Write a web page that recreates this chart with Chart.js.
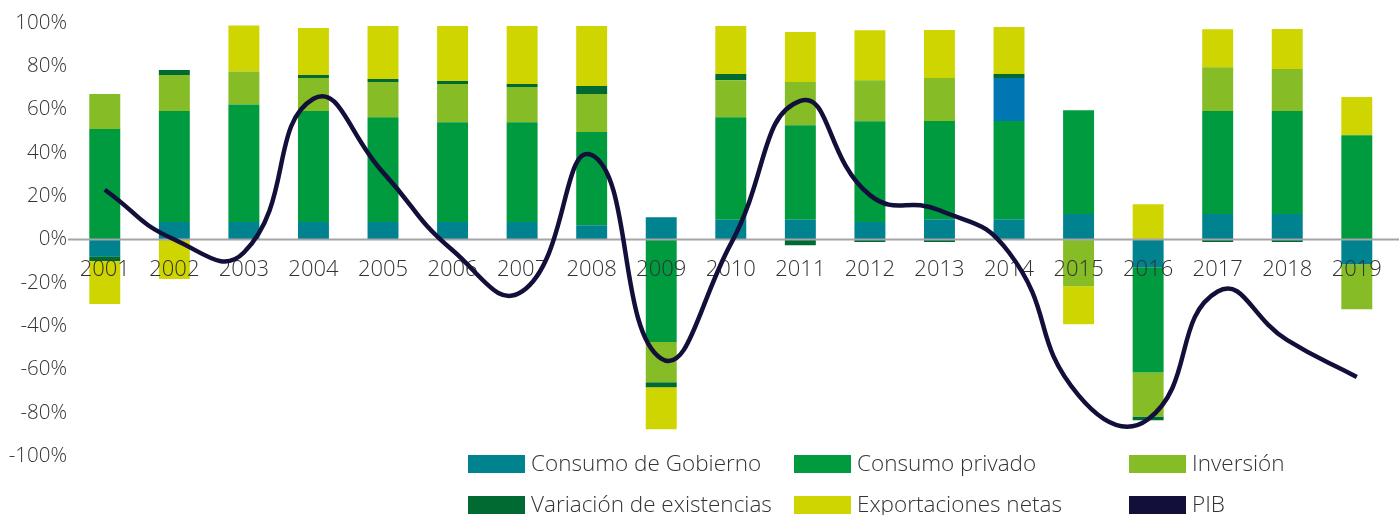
<!DOCTYPE html>
<html>
<head>
<meta charset="utf-8">
<script src="https://cdn.jsdelivr.net/npm/chart.js@4/dist/chart.umd.min.js"></script>
<style>
  html, body { margin: 0; padding: 0; background: #ffffff; }
  #wrap { position: relative; width: 1399px; height: 515px; overflow: hidden; }
  #c { position: absolute; left: 0; top: 0; }
  .lg { position: absolute; display: flex; align-items: center; font-family: "Open Sans", sans-serif; font-weight: 300; font-size: 22.5px; color: #333333; white-space: nowrap; }
  .lg .bx { width: 57px; height: 18px; margin-right: 6px; flex: none; }
  .lg .tx { position: relative; top: -2px; }
</style>
</head>
<body>
<div id="wrap">
  <canvas id="c" width="1399" height="515"></canvas>
  <div id="legend"></div>
</div>
<script>
const categories = ['2001','2002','2003','2004','2005','2006','2007','2008','2009','2010','2011','2012','2013','2014','2015','2016','2017','2018','2019'];
const consumoGobierno = [-7.7, 8.1, 8.1, 8.1, 8.1, 8.1, 8.1, 6.6, 10.3, 9.1, 9.1, 8.1, 9.4, 9.4, 11.8, -12.8, 11.8, 11.8, -11.4];
const consumoPrivado = [51, 51.3, 54.3, 51.3, 48.4, 46.1, 46.1, 43, -47.4, 47.4, 43.7, 46.5, 45.3, 45.3, 47.9, -48.6, 47.5, 47.5, 48.2];
const inversion = [16.2, 16.6, 15.2, 15.2, 16.2, 17.6, 16.2, 17.6, -18.5, 17.1, 19.9, 19, 19.9, 19.9, -21.6, -20.3, 20.3, 19.4, -20.8];
const variacionExistencias = [-2.2, 2.3, null, 1.4, 1.4, 1.4, 1.4, 3.7, -2.3, 2.8, -2.6, -1.2, -1.2, 1.8, null, -1.8, -1.2, -1.2, null];
const exportacionesNetas = [-19.9, -18.3, 21.2, 21.7, 24.5, 25.4, 26.8, 27.7, -19.4, 22.2, 23.1, 23.1, 22.2, 21.7, -17.6, 16.3, 17.5, 18.5, 17.6];
const pib = [23, 0, -6, 65, 31, -5, -24, 39, -55, -2, 64, 20.5, 13.5, -6, -72, -83, -24, -46.5, -63.5];
const yTicks = [-100, -80, -60, -40, -20, 0, 20, 40, 60, 80, 100];

const seriesNames = ['Consumo de Gobierno', 'Consumo privado', 'Inversión', 'Variación de existencias', 'Exportaciones netas', 'PIB'];
const colors = ['#00828f', '#009b3f', '#86bc25', '#006a32', '#cfd500', '#12103a'];
const highlightColor = '#0076b3';
const highlightCategory = '2014';

const invColors = categories.map(c => c === highlightCategory ? highlightColor : colors[2]);

const FONT = '"Open Sans", sans-serif';

const barDs = (label, data, color) => ({
  type: 'bar', label, data, backgroundColor: color, borderWidth: 0, stack: 'a',
  barPercentage: 0.445, categoryPercentage: 1.0
});

const datasets = [
  barDs(seriesNames[0], consumoGobierno, colors[0]),
  barDs(seriesNames[1], consumoPrivado, colors[1]),
  barDs(seriesNames[2], inversion, invColors),
  barDs(seriesNames[3], variacionExistencias, colors[3]),
  barDs(seriesNames[4], exportacionesNetas, colors[4]),
  {
    type: 'line', label: seriesNames[5], data: pib, borderColor: colors[5], backgroundColor: colors[5],
    borderWidth: 4.5, pointRadius: 0, pointHoverRadius: 0, tension: 0.5, stack: 'pib', fill: false,
    borderCapStyle: 'butt', borderJoinStyle: 'round'
  }
];

const layerPlugin = {
  id: 'layers',
  beforeDatasetDraw(chart, args) {
    if (args.meta.type === 'line') return false;
  },
  afterDatasetsDraw(chart) {
    const ctx = chart.ctx;
    const y = chart.scales.y.getPixelForValue(0);
    ctx.save();
    ctx.strokeStyle = '#a4a4a9';
    ctx.lineWidth = 2;
    ctx.beginPath();
    ctx.moveTo(chart.chartArea.left - 2, y);
    ctx.lineTo(chart.width, y);
    ctx.stroke();
    ctx.restore();
  },
  afterDraw(chart) {
    const meta = chart.getDatasetMeta(5);
    chart.ctx.save();
    meta.controller.draw();
    chart.ctx.restore();
  }
};

new Chart(document.getElementById('c'), {
  data: { labels: categories, datasets },
  options: {
    responsive: false,
    animation: false,
    events: [],
    layout: { padding: { top: 23, bottom: 59, left: 0, right: 3 } },
    plugins: { legend: { display: false }, tooltip: { enabled: false } },
    scales: {
      x: {
        type: 'category',
        position: { y: 0 },
        stacked: true,
        grid: { display: false, drawTicks: false },
        border: { display: false },
        ticks: { z: 1, color: '#333333', font: { family: FONT, size: 22, weight: 300 }, padding: 17, maxRotation: 0, autoSkip: false }
      },
      y: {
        min: -100, max: 100,
        stacked: true,
        grid: { display: false, drawTicks: false },
        border: { display: false },
        afterBuildTicks: (s) => { s.ticks = yTicks.map(v => ({ value: v })); },
        afterFit: (s) => { s.width = 70; },
        ticks: { color: '#333333', font: { family: FONT, size: 20.5, weight: 300 }, padding: 3, callback: (v) => v + '%' }
      }
    }
  },
  plugins: [layerPlugin]
});

// Legend (HTML text)
const legendEl = document.getElementById('legend');
const legendCols = [468, 794, 1129];
const legendRows = [455, 496];
seriesNames.forEach((name, i) => {
  const item = document.createElement('div');
  item.className = 'lg';
  item.style.left = legendCols[i % 3] + 'px';
  item.style.top = (legendRows[Math.floor(i / 3)] - 6) + 'px';
  item.style.height = '30px';
  const bx = document.createElement('span');
  bx.className = 'bx';
  bx.style.background = colors[i];
  const tx = document.createElement('span');
  tx.className = 'tx';
  tx.textContent = name;
  item.appendChild(bx);
  item.appendChild(tx);
  legendEl.appendChild(item);
});
</script>
</body>
</html>
